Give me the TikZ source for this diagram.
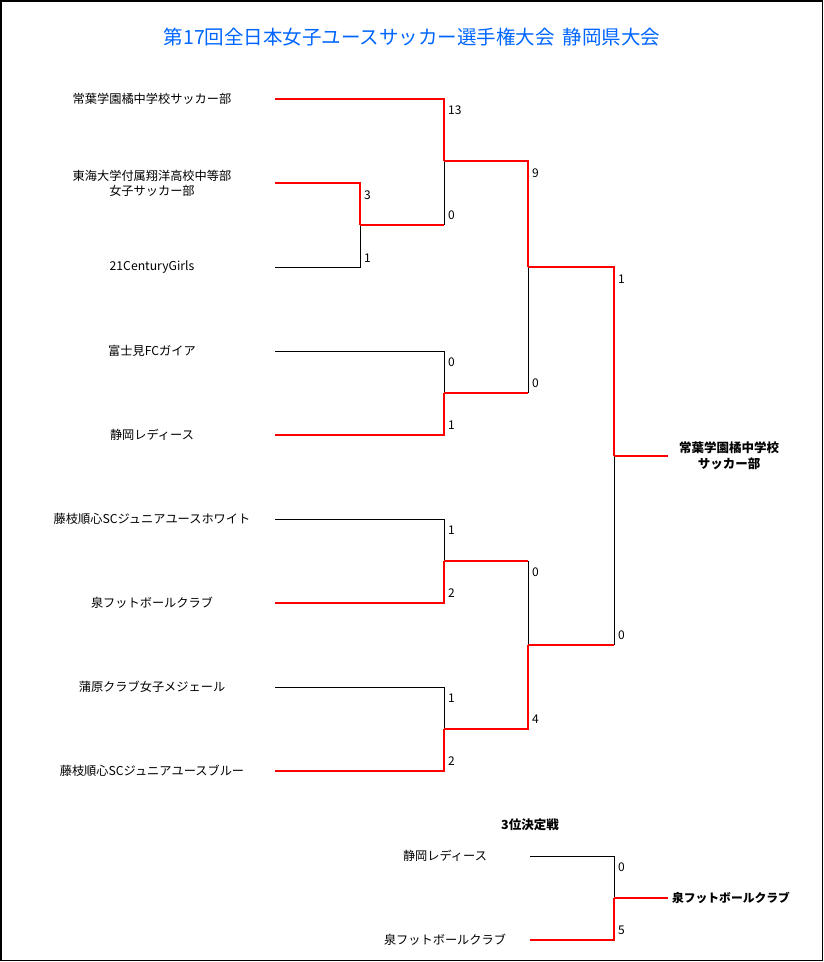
\documentclass[tikz,border=0pt]{standalone}
\usepackage{fontspec}
\setmainfont{Noto Sans CJK JP}
\definecolor{titleblue}{RGB}{0,102,255}
\definecolor{winred}{RGB}{255,0,0}
\begin{document}
\begin{tikzpicture}[x=1pt,y=-1pt,
  win/.style={winred, line width=2pt},
  lose/.style={black, line width=0.9pt},
  team/.style={font=\fontsize{12.2}{15}\selectfont, align=center, inner sep=0pt},
  score/.style={font=\fontsize{12}{13}\selectfont, anchor=west, inner sep=0pt},
  champ/.style={font=\bfseries\fontsize{12.5}{15.5}\selectfont, align=center, inner sep=0pt}]
\useasboundingbox (0,0) rectangle (824,962);
\draw[line width=1.2pt] (1,1) rectangle (822.5,960.5);

\node[font=\fontsize{19.5}{22}\selectfont, text=titleblue, inner sep=0pt] (title) at (412,37) {第17回全日本女子ユースサッカー選手権大会\hspace{0.4em}静岡県大会};

% team labels
\node[team] (t1) at (152,99) {常葉学園橘中学校サッカー部};
\node[team] (t2) at (152,183) {東海大学付属翔洋高校中等部\\女子サッカー部};
\node[team] (t3) at (152,267) {21CenturyGirls};
\node[team] (t4) at (152,351) {富士見FCガイア};
\node[team] (t5) at (152,435) {静岡レディース};
\node[team] (t6) at (152,519) {藤枝順心SCジュニアユースホワイト};
\node[team] (t7) at (152,603) {泉フットボールクラブ};
\node[team] (t8) at (152,687) {蒲原クラブ女子メジェール};
\node[team] (t9) at (152,771) {藤枝順心SCジュニアユースブルー};

% bracket coordinates
\coordinate (s1) at (275,99);
\coordinate (s2) at (275,183);
\coordinate (s3) at (275,267);
\coordinate (s4) at (275,351);
\coordinate (s5) at (275,435);
\coordinate (s6) at (275,519);
\coordinate (s7) at (275,603);
\coordinate (s8) at (275,687);
\coordinate (s9) at (275,771);
\coordinate (m23) at (360,225);
\coordinate (r23) at (444,225);
\coordinate (m1) at (444,161);
\coordinate (m45) at (444,393);
\coordinate (q45) at (528,393);
\coordinate (m67) at (444,561);
\coordinate (q67) at (528,561);
\coordinate (m89) at (444,729);
\coordinate (sA) at (528,267);
\coordinate (sB) at (528,645);
\coordinate (qB) at (614,645);
\coordinate (f) at (614,456);
\coordinate (fend) at (668,456);

% first round
\draw[win] (s2) -| (m23);
\draw[lose] (s3) -| (m23);
\draw[win] (s1) -| (m1);
\draw[win] (m23) -- (r23);
\draw[lose] (r23) -- (m1);
\draw[lose] (s4) -| (m45);
\draw[win] (s5) -| (m45);
\draw[lose] (s6) -| (m67);
\draw[win] (s7) -| (m67);
\draw[lose] (s8) -| (m89);
\draw[win] (s9) -| (m89);
% semifinals
\draw[win] (m1) -| (sA);
\draw[win] (m45) -- (q45);
\draw[lose] (q45) -- (sA);
\draw[win] (m67) -- (q67);
\draw[lose] (q67) -- (sB);
\draw[win] (m89) -| (sB);
% final
\draw[win] (sA) -| (f);
\draw[win] (sB) -- (qB);
\draw[lose] (qB) -- (f);
\draw[win] (f) -- (fend);

\node[champ] (champion) at (729,456) {常葉学園橘中学校\\サッカー部};

% scores
\node[score] at (448,110) {13};
\node[score] at (448,215) {0};
\node[score] at (364,195) {3};
\node[score] at (364,258) {1};
\node[score] at (448,362) {0};
\node[score] at (448,425) {1};
\node[score] at (532,173) {9};
\node[score] at (532,383) {0};
\node[score] at (618,279) {1};
\node[score] at (618,635) {0};
\node[score] at (448,530) {1};
\node[score] at (448,593) {2};
\node[score] at (532,572) {0};
\node[score] at (532,719) {4};
\node[score] at (448,698) {1};
\node[score] at (448,761) {2};

% third place
\node[champ] (third) at (530,825) {3位決定戦};
\node[team] (u1) at (445,856) {静岡レディース};
\node[team] (u2) at (445,940) {泉フットボールクラブ};
\coordinate (v1) at (530,856);
\coordinate (v2) at (530,940);
\coordinate (m3) at (614,898);
\coordinate (e3) at (668,898);
\draw[lose] (v1) -| (m3);
\draw[win] (v2) -| (m3);
\draw[win] (m3) -- (e3);
\node[champ, font=\bfseries\fontsize{11.8}{14}\selectfont] (third winner) at (731,898) {泉フットボールクラブ};
\node[score] at (618,867) {0};
\node[score] at (618,930) {5};
\end{tikzpicture}
\end{document}
